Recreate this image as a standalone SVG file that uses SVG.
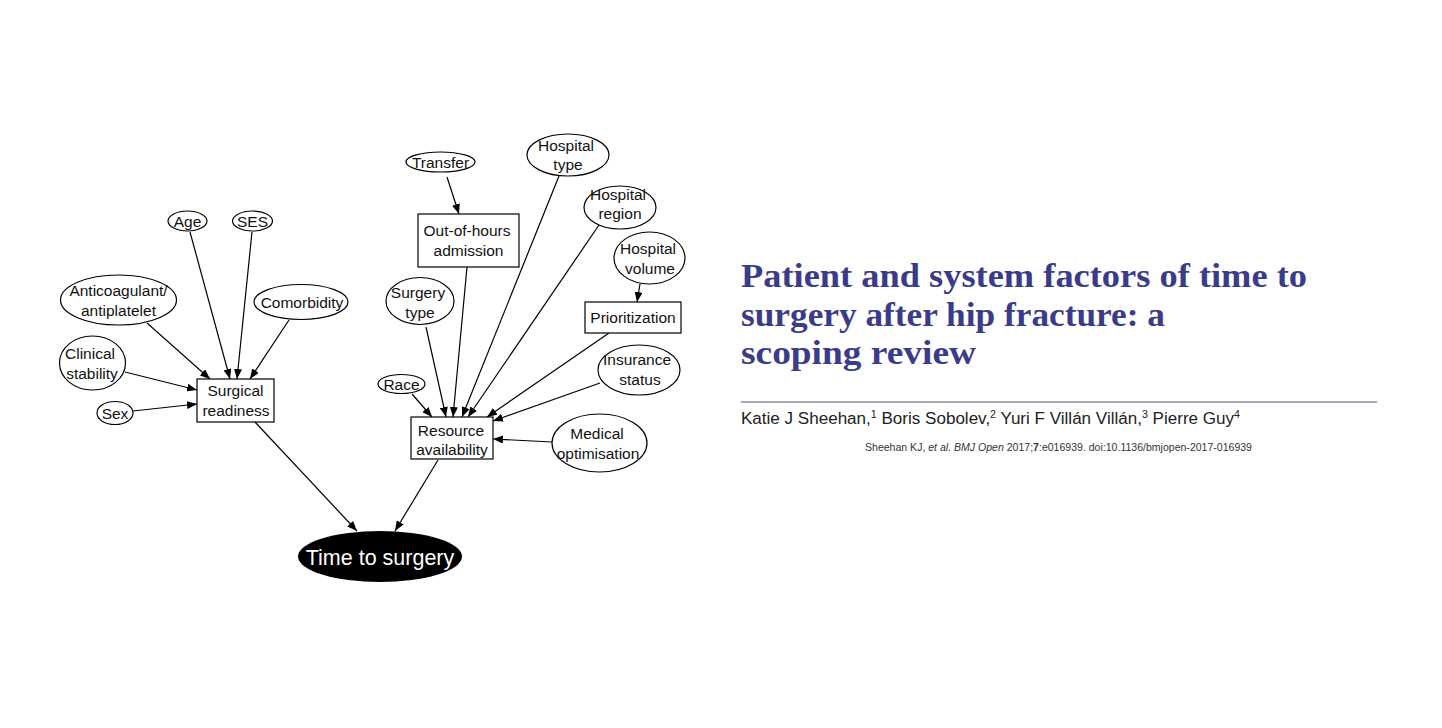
<svg xmlns="http://www.w3.org/2000/svg" width="1442" height="728" viewBox="0 0 1442 728">
<style>
.n ellipse,.n rect{fill:#fff;stroke:#000;stroke-width:1.2}
.t{font-family:"Liberation Sans",Arial,sans-serif;font-size:15.5px;fill:#111;text-anchor:middle}
#edges line{stroke:#000;stroke-width:1.2;marker-end:url(#ah)}
.title{font-family:"Liberation Serif","Times New Roman",serif;font-weight:bold;font-size:34px;fill:#3b3b8c}
</style>
<defs>
<marker id="ah" markerUnits="userSpaceOnUse" markerWidth="10" markerHeight="8" refX="10" refY="4" orient="auto">
<path d="M0,0 L10,4 L0,8 z" fill="#000"/>
</marker>
</defs>
<rect width="1442" height="728" fill="#fff"/>
<g id="edges">
<line x1="190" y1="232" x2="230" y2="379"/>
<line x1="252" y1="232" x2="237" y2="379"/>
<line x1="289" y1="320" x2="250" y2="379"/>
<line x1="147" y1="323" x2="210" y2="379"/>
<line x1="125" y1="372" x2="197" y2="390"/>
<line x1="133" y1="411" x2="197" y2="404"/>
<line x1="255" y1="422" x2="357" y2="531"/>
<line x1="447" y1="177" x2="459" y2="214"/>
<line x1="640" y1="284" x2="637" y2="302"/>
<line x1="412" y1="394" x2="432" y2="417"/>
<line x1="426" y1="327" x2="446" y2="417"/>
<line x1="467" y1="267" x2="453" y2="417"/>
<line x1="559" y1="176" x2="462" y2="417"/>
<line x1="599" y1="225" x2="468" y2="417"/>
<line x1="609" y1="333" x2="487" y2="417"/>
<line x1="600" y1="383" x2="493" y2="421"/>
<line x1="552" y1="442" x2="493" y2="439"/>
<line x1="438" y1="460" x2="395" y2="531"/>
</g>
<g id="age" class="n"><ellipse cx="187.5" cy="221" rx="19.5" ry="10"/><text class="t" x="187.5" y="226.5">Age</text></g>
<g id="ses" class="n"><ellipse cx="252.5" cy="221" rx="20" ry="10"/><text class="t" x="252.5" y="226.5">SES</text></g>
<g id="anticoag" class="n"><ellipse cx="118.5" cy="300" rx="58" ry="25"/><text class="t" x="118.5" y="296">Anticoagulant/</text><text class="t" x="118.5" y="316">antiplatelet</text></g>
<g id="comorbidity" class="n"><ellipse cx="301" cy="302" rx="47" ry="17.5"/><text class="t" x="302" y="307.5">Comorbidity</text></g>
<g id="clinical" class="n"><ellipse cx="92.5" cy="363" rx="33" ry="27"/><text class="t" x="90" y="359">Clinical</text><text class="t" x="92" y="379">stability</text></g>
<g id="sex" class="n"><ellipse cx="115" cy="413" rx="18" ry="11.5"/><text class="t" x="115" y="418.5">Sex</text></g>
<g id="surgical" class="n"><rect x="197" y="379" width="77" height="43"/><text class="t" x="235.5" y="396">Surgical</text><text class="t" x="236" y="416">readiness</text></g>
<g id="transfer" class="n"><ellipse cx="440.5" cy="162" rx="34.5" ry="10"/><text class="t" x="440.5" y="167.5">Transfer</text></g>
<g id="hosptype" class="n"><ellipse cx="568" cy="155" rx="41" ry="21"/><text class="t" x="566" y="151">Hospital</text><text class="t" x="568" y="170">type</text></g>
<g id="hospregion" class="n"><ellipse cx="620" cy="207.5" rx="36" ry="21.5"/><text class="t" x="618" y="200">Hospital</text><text class="t" x="620" y="219">region</text></g>
<g id="hospvolume" class="n"><ellipse cx="649.5" cy="258" rx="35.5" ry="26"/><text class="t" x="648" y="254">Hospital</text><text class="t" x="650" y="274">volume</text></g>
<g id="outofhours" class="n"><rect x="418" y="214" width="101" height="53"/><text class="t" x="467" y="236">Out-of-hours</text><text class="t" x="468.5" y="256">admission</text></g>
<g id="surgerytype" class="n"><ellipse cx="420" cy="301" rx="34" ry="23.5"/><text class="t" x="418" y="298">Surgery</text><text class="t" x="420" y="318">type</text></g>
<g id="prioritization" class="n"><rect x="585" y="302" width="96" height="31"/><text class="t" x="633" y="323">Prioritization</text></g>
<g id="race" class="n"><ellipse cx="401.5" cy="384" rx="23.5" ry="9.5"/><text class="t" x="401.5" y="389.5">Race</text></g>
<g id="insurance" class="n"><ellipse cx="639" cy="370" rx="41" ry="25"/><text class="t" x="637" y="365">Insurance</text><text class="t" x="640" y="385">status</text></g>
<g id="resource" class="n"><rect x="411" y="417" width="82" height="42"/><text class="t" x="451" y="436">Resource</text><text class="t" x="452" y="455">availability</text></g>
<g id="medical" class="n"><ellipse cx="599.5" cy="443" rx="47.5" ry="29"/><text class="t" x="597" y="439">Medical</text><text class="t" x="598" y="459">optimisation</text></g>
<g id="time"><ellipse cx="380" cy="556.5" rx="82" ry="25.5" fill="#000"/><text x="380" y="564.5" style="font-family:'Liberation Sans',Arial,sans-serif;font-size:21.5px;fill:#fff;text-anchor:middle">Time to surgery</text></g>
<g id="header">
<text class="title" x="741" y="287" textLength="566" lengthAdjust="spacingAndGlyphs">Patient and system factors of time to</text>
<text class="title" x="741" y="326" textLength="424" lengthAdjust="spacingAndGlyphs">surgery after hip fracture: a</text>
<text class="title" x="741" y="364" textLength="235" lengthAdjust="spacingAndGlyphs">scoping review</text>
<line x1="741" y1="402" x2="1377" y2="402" stroke="#55557a" stroke-width="1.2"/>
<text x="741" y="424" style="font-family:'Liberation Sans',Arial,sans-serif;font-size:16px;fill:#222" textLength="499" lengthAdjust="spacingAndGlyphs">Katie J Sheehan,<tspan dy="-6" font-size="10">1</tspan><tspan dy="6"> Boris Sobolev,</tspan><tspan dy="-6" font-size="10">2</tspan><tspan dy="6"> Yuri F Villán Villán,</tspan><tspan dy="-6" font-size="10">3</tspan><tspan dy="6"> Pierre Guy</tspan><tspan dy="-6" font-size="10">4</tspan></text>
<text x="865" y="451" style="font-family:'Liberation Sans',Arial,sans-serif;font-size:10.5px;fill:#333" textLength="387" lengthAdjust="spacingAndGlyphs">Sheehan KJ, <tspan font-style="italic">et al. BMJ Open</tspan> 2017;<tspan font-weight="bold">7</tspan>:e016939. doi:10.1136/bmjopen-2017-016939</text>
</g>
</svg>
